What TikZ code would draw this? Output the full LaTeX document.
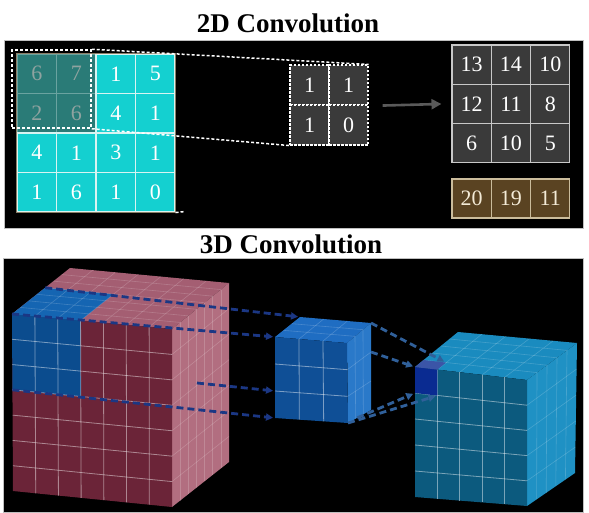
\documentclass[tikz,border=0pt]{standalone}
\usepackage{fontspec}
\setmainfont{Liberation Serif}
\usetikzlibrary{arrows.meta,positioning,calc}
\definecolor{cyancell}{HTML}{14D0D0}
\definecolor{cyanline}{HTML}{D8F4F2}
\definecolor{gridframe}{HTML}{8C7E66}
\definecolor{hotcell}{HTML}{2A7B77}
\definecolor{hottext}{HTML}{8FA3A0}
\definecolor{darkcell}{HTML}{3A3A3A}
\definecolor{outgrid}{HTML}{C8C8C8}
\definecolor{browncell}{HTML}{5A4322}
\definecolor{brownline}{HTML}{CBBC9C}
\definecolor{browntext}{HTML}{F3EAD6}
\definecolor{arrowgray}{HTML}{5A5A5A}
\definecolor{pinkfront}{HTML}{6B2438}
\definecolor{pinktop}{HTML}{A45E72}
\definecolor{pinkside}{HTML}{B26E80}
\definecolor{bluefront}{HTML}{0B4C8E}
\definecolor{bluetop}{HTML}{1565B2}
\definecolor{kerfront}{HTML}{0F4F96}
\definecolor{kertop}{HTML}{1F6DC2}
\definecolor{kerside}{HTML}{2A79C9}
\definecolor{outfront}{HTML}{0C5A7E}
\definecolor{outtop}{HTML}{1A8BBF}
\definecolor{outside}{HTML}{1F91C4}
\definecolor{voxel}{HTML}{0A2B91}
\definecolor{navydash}{HTML}{1B3784}
\definecolor{steeldash}{HTML}{30609A}

% grid lines on a four-sided face A-B-C-D, n cells each way
\newcommand{\facegrid}[6][]{%
  \pgfmathtruncatemacro\lastk{#6-1}%
  \foreach \k in {1,...,\lastk}{
    \draw[#1] ($(#2)!\k/#6!(#3)$) -- ($(#5)!\k/#6!(#4)$);
    \draw[#1] ($(#2)!\k/#6!(#5)$) -- ($(#3)!\k/#6!(#4)$);
  }%
}

\begin{document}
\begin{tikzpicture}[
  x=1pt,y=-1pt,
  heading/.style={font=\bfseries\fontsize{27}{27}\selectfont,inner sep=0pt},
  cellbox/.style={minimum width=39.5pt,minimum height=39.5pt,inner sep=0pt,font=\fontsize{22}{22}\selectfont,text=white,line width=1.1pt},
  incell/.style={cellbox,fill=cyancell,draw=cyanline},
  hotbox/.style={cellbox,fill=hotcell,draw=hotcell!70!white,text=hottext},
  kercell/.style={cellbox,fill=darkcell,draw=white,dash pattern=on 2.5pt off 1.5pt,minimum width=39pt,minimum height=40pt},
  outcell/.style={cellbox,fill=darkcell,draw=outgrid,minimum width=39.3pt,minimum height=39.3pt},
  sumcell/.style={cellbox,fill=browncell,draw=brownline,text=browntext,minimum width=39.3pt,minimum height=39pt},
  winline/.style={draw=white,line width=1.5pt,dash pattern=on 3pt off 2pt},
  arr/.style={-{Triangle[length=10pt,width=10pt]},line width=2.6pt,draw=arrowgray},
  gridln/.style={draw=white,draw opacity=.45,line width=.8pt},
  faintln/.style={draw=white,draw opacity=.18,line width=.6pt},
  inarr/.style={-{Triangle[length=7pt,width=7pt]},line width=2.8pt,draw=navydash,dash pattern=on 7pt off 4pt,shorten >=2pt},
  outarr/.style={inarr,draw=steeldash}
]
\fill[white] (0,0) rectangle (589,512);
\useasboundingbox (0,0) rectangle (589,512);
\filldraw[black,draw=gray!50,line width=.6pt] (4,40) rectangle (583,228);
\filldraw[black,draw=gray!50,line width=.6pt] (3,258) rectangle (583,512);
\node[heading,anchor=base] (title2d) at (288,32) {2D Convolution};
\node[heading,anchor=base] (title3d) at (291,253) {3D Convolution};

% 2D: input map
\foreach \vals [count=\j from 0] in {{6,7,1,5},{2,6,4,1},{4,1,3,1},{1,6,1,0}}
  \foreach \v [count=\i from 0] in \vals {
    \ifnum\i<2 \ifnum\j<2 \def\sty{hotbox}\else\def\sty{incell}\fi\else\def\sty{incell}\fi
    \node[\sty] (in-\i-\j) at ({36.75+39.5*\i},{73.75+39.5*\j}) {\v};
  }
\draw[gridframe,line width=1pt] (in-0-0.north west) rectangle (in-3-3.south east);
\node[winline,minimum width=79pt,minimum height=78pt,inner sep=0pt] (win) at (51.5,89) {};

% 2D: kernel
\foreach \vals [count=\j from 0] in {{1,1},{1,0}}
  \foreach \v [count=\i from 0] in \vals
    \node[kercell] (ker-\i-\j) at ({309.5+39*\i},{85+40*\j}) {\v};
\draw[winline] (win.north east) -- (ker-1-0.north east);
\draw[winline] (win.south east) -- (ker-0-1.south west);
\draw[winline] (in-3-3.south east) -- ++(9,-1);

% 2D: output
\foreach \vals [count=\j from 0] in {{13,14,10},{12,11,8},{6,10,5}}
  \foreach \v [count=\i from 0] in \vals
    \node[outcell] (out-\i-\j) at ({471.65+39.3*\i},{64.65+39.3*\j}) {\v};
\foreach \v [count=\i from 0] in {20,19,11}
  \node[sumcell] (sum-\i) at ({471.65+39.3*\i},198.5) {\v};
\draw[arr] ($(ker-1-0.south east)+(14,0)$) -- ($(out-0-1.west)+(-10,0)$);

% 3D: input volume
\coordinate (p-ftl) at (12,314);
\coordinate (p-ftr) at (172,329);
\coordinate (p-fbr) at (172,507);
\coordinate (p-fbl) at (13,491);
\coordinate (p-btl) at (70,268);
\coordinate (p-btr) at (229,283);
\coordinate (p-bbr) at (229,462);
\fill[pinktop] (p-ftl) -- (p-ftr) -- (p-btr) -- (p-btl) -- cycle;
\fill[pinkside] (p-ftr) -- (p-btr) -- (p-bbr) -- (p-fbr) -- cycle;
\fill[pinkfront] (p-ftl) -- (p-ftr) -- (p-fbr) -- (p-fbl) -- cycle;
\coordinate (p-u3) at ($(p-ftl)!3/7!(p-ftr)$);
\coordinate (p-v3) at ($(p-ftl)!3/7!(p-fbl)$);
\coordinate (p-w3) at ($(p-ftr)!3/7!(p-fbr)$);
\coordinate (p-m3) at ($(p-v3)!3/7!(p-w3)$);
\coordinate (p-d4) at ($(p-ftl)!4/7!(p-btl)$);
\coordinate (p-e4) at ($(p-u3)+(p-d4)-(p-ftl)$);
\fill[bluefront] (p-ftl) -- (p-u3) -- (p-m3) -- (p-v3) -- cycle;
\fill[bluetop] (p-ftl) -- (p-u3) -- (p-e4) -- (p-d4) -- cycle;
\facegrid[gridln]{p-ftl}{p-ftr}{p-fbr}{p-fbl}{7}
\facegrid[faintln]{p-ftl}{p-ftr}{p-btr}{p-btl}{7}
\facegrid[faintln]{p-ftr}{p-btr}{p-bbr}{p-fbr}{7}

% 3D: kernel
\coordinate (s-ftl) at (275,337);
\coordinate (s-ftr) at (347,343);
\coordinate (s-fbr) at (348,423);
\coordinate (s-fbl) at (275,418);
\coordinate (s-btl) at (300,317);
\coordinate (s-btr) at (371,323);
\coordinate (s-bbr) at (371,410);
\fill[kertop] (s-ftl) -- (s-ftr) -- (s-btr) -- (s-btl) -- cycle;
\fill[kerside] (s-ftr) -- (s-btr) -- (s-bbr) -- (s-fbr) -- cycle;
\fill[kerfront] (s-ftl) -- (s-ftr) -- (s-fbr) -- (s-fbl) -- cycle;
\facegrid[gridln]{s-ftl}{s-ftr}{s-fbr}{s-fbl}{3}
\facegrid[faintln]{s-ftl}{s-ftr}{s-btr}{s-btl}{3}
\facegrid[faintln]{s-ftr}{s-btr}{s-bbr}{s-fbr}{3}

% 3D: output volume
\coordinate (o-ftl) at (415,367);
\coordinate (o-ftr) at (527,380);
\coordinate (o-fbr) at (527,506);
\coordinate (o-fbl) at (415,497);
\coordinate (o-btl) at (458,332);
\coordinate (o-btr) at (577,343);
\coordinate (o-bbr) at (575,473);
\fill[outtop] (o-ftl) -- (o-ftr) -- (o-btr) -- (o-btl) -- cycle;
\fill[outside] (o-ftr) -- (o-btr) -- (o-bbr) -- (o-fbr) -- cycle;
\fill[outfront] (o-ftl) -- (o-ftr) -- (o-fbr) -- (o-fbl) -- cycle;
\facegrid[gridln]{o-ftl}{o-ftr}{o-fbr}{o-fbl}{5}
\facegrid[faintln]{o-ftl}{o-ftr}{o-btr}{o-btl}{5}
\facegrid[faintln]{o-ftr}{o-btr}{o-bbr}{o-fbr}{5}
\coordinate (o-u1) at ($(o-ftl)!1/5!(o-ftr)$);
\coordinate (o-v1) at ($(o-ftl)!1/5!(o-fbl)$);
\coordinate (o-m1) at ($(o-u1)+(o-v1)-(o-ftl)$);
\coordinate (o-d1) at ($(o-ftl)!1/5!(o-btl)$);
\coordinate (o-e1) at ($(o-u1)+(o-d1)-(o-ftl)$);
\fill[voxel] (o-ftl) -- (o-u1) -- (o-m1) -- (o-v1) -- cycle;
\fill[voxel!80!white] (o-ftl) -- (o-u1) -- (o-e1) -- (o-d1) -- cycle;

% 3D: dashed projections
\coordinate (hid) at (197,383);
\draw[inarr] (p-d4) -- (s-btl);
\draw[inarr] (p-ftl) -- (s-ftl);
\draw[inarr] (hid) -- ($(s-ftl)!2/3!(s-fbl)$);
\draw[inarr] (p-v3) -- (s-fbl);
\draw[outarr] (s-btr) -- (o-e1);
\draw[outarr] ($(s-btr)!1/3!(s-bbr)$) -- (o-ftl);
\draw[outarr] ($(s-fbr)!0.4!(s-bbr)$) -- (o-v1);
\draw[outarr] (s-fbr) -- (o-m1);
\end{tikzpicture}
\end{document}
